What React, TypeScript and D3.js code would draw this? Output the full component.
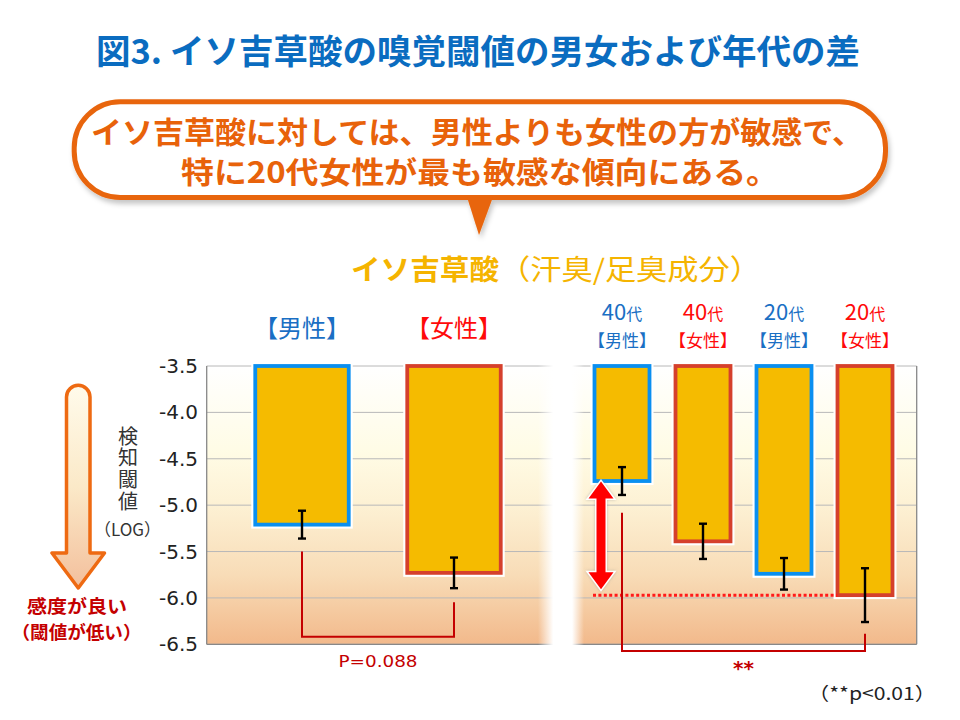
import React from "react";
import * as d3 from "d3";

// ---- data ----
const sexCategories = ["男性", "女性"];
const sexValues = [-5.21, -5.73];
const sexErrors = [0.15, 0.165];

const ageCategories = ["40代男性", "40代女性", "20代男性", "20代女性"];
const ageDecades = ["40", "40", "20", "20"];
const ageSex = ["男性", "女性", "男性", "女性"];
const ageValues = [-4.74, -5.39, -5.74, -5.97];
const ageErrors = [0.15, 0.19, 0.17, 0.29];

const yTicks = [-3.5, -4.0, -4.5, -5.0, -5.5, -6.0, -6.5];
const yDomain = [-3.5, -6.5];

const JP = "'Noto Sans CJK JP', 'Noto Sans', sans-serif";
const LAT = "'DejaVu Sans', Verdana, sans-serif";

const BLUE_STROKE = "#0a8ff0";
const RED_STROKE = "#d5402c";
const BAR_FILL = "#f5bb00";
const BLUE_TXT = "#1a6fc4";
const RED_TXT = "#ff0a0a";
const DARK_RED = "#c40000";

export default function App() {
  const plotLeft = 206.7;
  const plotRight = 916.7;
  const y = d3.scaleLinear().domain(yDomain).range([366, 644.3]);
  const xSex = d3
    .scaleBand<string>()
    .domain(sexCategories)
    .range([226, 530])
    .paddingInner(0.385)
    .paddingOuter(0.1925);
  const xAge = d3
    .scaleBand<string>()
    .domain(ageCategories)
    .range([581.5, 905.5])
    .paddingInner(0.321)
    .paddingOuter(0.1605);

  const strokeFor = (s: string) => (s === "男性" ? BLUE_STROKE : RED_STROKE);
  const txtFor = (s: string) => (s === "男性" ? BLUE_TXT : RED_TXT);

  const bar = (
    key: string,
    x0: number,
    w: number,
    v: number,
    err: number,
    stroke: string
  ) => {
    const top = y(yDomain[0]);
    const bot = y(v);
    const cx = x0 + w / 2;
    return (
      <g key={key}>
        <rect x={x0} y={top} width={w} height={bot - top} fill="none" stroke="#fff" strokeWidth={8} />
        <rect x={x0} y={top} width={w} height={bot - top} fill={BAR_FILL} stroke={stroke} strokeWidth={3.8} />
        <line x1={cx} x2={cx} y1={y(v + err)} y2={y(v - err)} stroke="#000" strokeWidth={2.4} />
        <line x1={cx - 4} x2={cx + 4} y1={y(v + err)} y2={y(v + err)} stroke="#000" strokeWidth={2.4} />
        <line x1={cx - 4} x2={cx + 4} y1={y(v - err)} y2={y(v - err)} stroke="#000" strokeWidth={2.4} />
      </g>
    );
  };

  // brackets
  const mC = xSex("男性")! + xSex.bandwidth() / 2;
  const fC = xSex("女性")! + xSex.bandwidth() / 2;
  const lb = {
    x1: mC,
    y1: y(sexValues[0] - sexErrors[0]) + 13,
    x2: fC,
    y2: y(sexValues[1] - sexErrors[1]) + 14,
    yb: y(-6.5) - 7.6,
  };
  const a40 = xAge("40代男性")! + xAge.bandwidth() / 2;
  const a20 = xAge("20代女性")! + xAge.bandwidth() / 2;
  const rb = {
    x1: a40,
    y1: y(ageValues[0] - ageErrors[0]) + 17.7,
    x2: a20,
    y2: y(ageValues[3] - ageErrors[3]) + 11.7,
    yb: y(-6.5) + 6.7,
  };

  // double arrow
  const dax = 601;
  const daTop = y(ageValues[0]) + 0.5;
  const daBot = y(ageValues[3]) - 6;
  const hw = 12.5,
    hl = 17,
    sw = 4.5;
  const dblArrow = `M${dax},${daTop} L${dax + hw},${daTop + hl} L${dax + sw},${daTop + hl} L${dax + sw},${daBot - hl} L${dax + hw},${daBot - hl} L${dax},${daBot} L${dax - hw},${daBot - hl} L${dax - sw},${daBot - hl} L${dax - sw},${daTop + hl} L${dax - hw},${daTop + hl} Z`;

  return (
    <svg
      width={960}
      height={720}
      viewBox="0 0 960 720"
      style={{ position: "absolute", left: 0, top: 0, display: "block", background: "#fff" }}
    >
      <defs>
        <linearGradient id="plotBg" x1="0" y1="0" x2="0" y2="1">
          <stop offset="0" stopColor="#ffffff" />
          <stop offset="0.3" stopColor="#fffce6" />
          <stop offset="0.5" stopColor="#fdf1d4" />
          <stop offset="0.75" stopColor="#f8dcb7" />
          <stop offset="1" stopColor="#f2b98b" />
        </linearGradient>
        <linearGradient id="gapFade" x1="0" y1="0" x2="1" y2="0">
          <stop offset="0" stopColor="#fff" stopOpacity={0} />
          <stop offset="0.33" stopColor="#fff" stopOpacity={1} />
          <stop offset="0.74" stopColor="#fff" stopOpacity={1} />
          <stop offset="1" stopColor="#fff" stopOpacity={0} />
        </linearGradient>
        <linearGradient id="arrowFill" x1="0" y1="0" x2="0" y2="1">
          <stop offset="0" stopColor="#fffbeb" />
          <stop offset="0.5" stopColor="#fbe9c8" />
          <stop offset="1" stopColor="#f3bf9c" />
        </linearGradient>
        <filter id="shadow" x="-5%" y="-10%" width="110%" height="140%">
          <feDropShadow dx="2" dy="4" stdDeviation="2.5" floodColor="#000" floodOpacity="0.22" />
        </filter>
        <filter id="glow" x="-50%" y="-20%" width="200%" height="140%">
          <feDropShadow dx="0" dy="0" stdDeviation="1.5" floodColor="#888" floodOpacity="0.5" />
        </filter>
      </defs>

      {/* Title */}
      <text
        x={96}
        y={49}
        dominantBaseline="central"
        fontFamily={JP}
        fontWeight="bold"
        fontSize={34}
        fill="#0a6cc0"
        textLength={764}
        lengthAdjust="spacingAndGlyphs"
      >
        図3. イソ吉草酸の嗅覚閾値の男女および年代の差
      </text>

      {/* Callout bubble */}
      <g filter="url(#shadow)">
        <rect x={74.2} y={101.8} width={811.3} height={95.7} rx={46} ry={46} fill="#fff" stroke="#e8650a" strokeWidth={5} />
        <path d="M467,197 L493,197 L479,235 Z" fill="#e8650a" />
      </g>
      <text
        x={91}
        y={130}
        dominantBaseline="central"
        fontFamily={JP}
        fontWeight="bold"
        fontSize={30}
        fill="#e8620a"
        textLength={772}
        lengthAdjust="spacingAndGlyphs"
      >
        イソ吉草酸に対しては、男性よりも女性の方が敏感で、
      </text>
      <text
        x={181}
        y={170}
        dominantBaseline="central"
        fontFamily={JP}
        fontWeight="bold"
        fontSize={30}
        fill="#e8620a"
        textLength={598}
        lengthAdjust="spacingAndGlyphs"
      >
        特に20代女性が最も敏感な傾向にある。
      </text>

      {/* Subtitle */}
      <text x={351} y={267.5} dominantBaseline="central" fontFamily={JP} fontWeight="bold" fontSize={28} fill="#f5b400" textLength={148} lengthAdjust="spacingAndGlyphs">
        イソ吉草酸
      </text>
      <text x={499} y={267.5} dominantBaseline="central" fontFamily={JP} fontSize={28} fill="#f5b400" textLength={262} lengthAdjust="spacingAndGlyphs">
        （汗臭/足臭成分）
      </text>

      {/* Group labels (left) */}
      {sexCategories.map((s) => (
        <text
          key={s}
          x={xSex(s)! + xSex.bandwidth() / 2}
          y={326}
          textAnchor="middle"
          dominantBaseline="central"
          fontFamily={JP}
          fontSize={24}
          fill={txtFor(s)}
        >
          {`【${s}】`}
        </text>
      ))}
      {/* Group labels (right) */}
      {ageCategories.map((c, i) => {
        const cx = xAge(c)! + xAge.bandwidth() / 2;
        return (
          <g key={c}>
            <text x={cx} y={320} textAnchor="middle" fontFamily={JP} fill={txtFor(ageSex[i])}>
              <tspan fontSize={22}>{ageDecades[i]}</tspan>
              <tspan fontSize={16}>代</tspan>
            </text>
            <text x={cx} y={339} textAnchor="middle" dominantBaseline="central" fontFamily={JP} fontSize={17} fill={txtFor(ageSex[i])}>
              {`【${ageSex[i]}】`}
            </text>
          </g>
        );
      })}

      {/* Plot background */}
      <rect x={plotLeft} y={y(-3.5)} width={plotRight - plotLeft} height={y(-6.5) - y(-3.5)} fill="url(#plotBg)" />
      {yTicks.map((t) => (
        <line key={t} x1={plotLeft} x2={plotRight} y1={y(t)} y2={y(t)} stroke="#b8b8b8" strokeWidth={1} />
      ))}
      <line x1={plotLeft} x2={plotLeft} y1={y(-3.5)} y2={y(-6.5)} stroke="#888" strokeWidth={1.3} />
      <line x1={plotRight} x2={plotRight} y1={y(-3.5)} y2={y(-6.5)} stroke="#888" strokeWidth={1.3} />
      <line x1={plotLeft} x2={plotRight} y1={y(-6.5)} y2={y(-6.5)} stroke="#888" strokeWidth={1.3} />
      <rect x={538} y={y(-3.5) - 2} width={46} height={y(-6.5) - y(-3.5) + 4} fill="url(#gapFade)" />

      {/* Y tick labels */}
      {yTicks.map((t) => (
        <text key={t} x={198} y={y(t)} textAnchor="end" dominantBaseline="central" fontFamily={LAT} fontSize={20} fill="#222">
          {d3.format(".1f")(t).replace("−", "-")}
        </text>
      ))}

      {/* Y axis title (vertical writing) */}
      <text
        x={128}
        y={426}
        fontFamily={JP}
        fontSize={20}
        fill="#333"
        style={{ writingMode: "vertical-rl", textOrientation: "upright", letterSpacing: "1.7px" } as any}
      >
        検知閾値
      </text>
      <text x={127.5} y={528} textAnchor="middle" dominantBaseline="central" fontFamily={JP} fontSize={17} fill="#333">
        （LOG）
      </text>

      {/* Big orange arrow */}
      <path
        d="M66.5,397 A11.75,11.75 0 0 1 90,397 L90,553 L104.5,553 L78.25,588 L52,553 L66.5,553 Z"
        fill="url(#arrowFill)"
        stroke="#ee6a12"
        strokeWidth={3.5}
        strokeLinejoin="round"
      />
      <text x={77} y={604.5} textAnchor="middle" dominantBaseline="central" fontFamily={JP} fontWeight="bold" fontSize={18} fill={DARK_RED} textLength={100} lengthAdjust="spacingAndGlyphs">
        感度が良い
      </text>
      <text x={76.5} y={631} textAnchor="middle" dominantBaseline="central" fontFamily={JP} fontWeight="bold" fontSize={18} fill={DARK_RED} textLength={130} lengthAdjust="spacingAndGlyphs">
        （閾値が低い）
      </text>

      {/* Bars */}
      {sexCategories.map((s, i) =>
        bar("s" + s, xSex(s)!, xSex.bandwidth(), sexValues[i], sexErrors[i], strokeFor(s))
      )}
      {ageCategories.map((c, i) =>
        bar("a" + c, xAge(c)!, xAge.bandwidth(), ageValues[i], ageErrors[i], strokeFor(ageSex[i]))
      )}

      {/* Dotted reference line at 20代女性 */}
      <line
        x1={dax - 8}
        x2={xAge("20代女性")!}
        y1={y(ageValues[3])}
        y2={y(ageValues[3])}
        stroke="#ff1a1a"
        strokeWidth={3}
        strokeDasharray="3 2.4"
      />

      {/* Double arrow */}
      <path d={dblArrow} fill="#ff0000" stroke="#fff" strokeWidth={3} strokeLinejoin="miter" filter="url(#glow)" />
      <path d={dblArrow} fill="#ff0000" />

      {/* Significance brackets */}
      <path
        d={`M${lb.x1},${lb.y1} L${lb.x1},${lb.yb} L${lb.x2},${lb.yb} L${lb.x2},${lb.y2}`}
        fill="none"
        stroke={DARK_RED}
        strokeWidth={2}
      />
      <text x={(lb.x1 + lb.x2) / 2} y={661.5} textAnchor="middle" dominantBaseline="central" fontFamily={LAT} fontSize={16} fill={DARK_RED} textLength={79} lengthAdjust="spacingAndGlyphs">
        P=0.088
      </text>
      <path
        d={`M${rb.x1},${rb.y1} L${rb.x1},${rb.yb} L${rb.x2},${rb.yb} L${rb.x2},${rb.y2}`}
        fill="none"
        stroke={DARK_RED}
        strokeWidth={2}
      />
      <text x={(rb.x1 + rb.x2) / 2} y={668} textAnchor="middle" dominantBaseline="central" fontFamily={LAT} fontWeight="bold" fontSize={20} fill={DARK_RED}>
        **
      </text>

      <text x={808} y={692} dominantBaseline="central" fontFamily={JP} fontSize={18} fill="#222" textLength={128} lengthAdjust="spacingAndGlyphs">
        （**p&lt;0.01）
      </text>
    </svg>
  );
}
